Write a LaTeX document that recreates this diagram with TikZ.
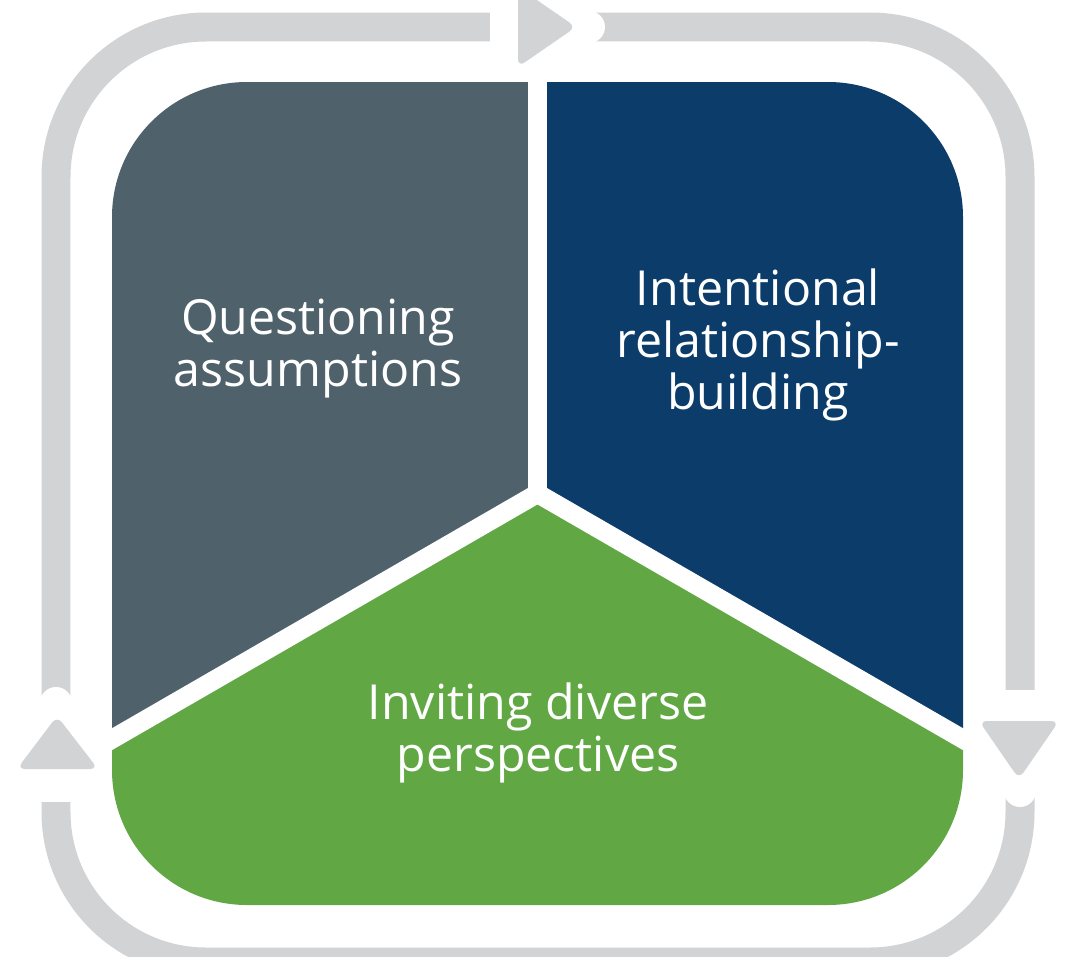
\documentclass[tikz,border=0pt]{standalone}
\usepackage{fontspec}
\setmainfont{Open Sans}
\usepackage{tikz}
\definecolor{ringgray}{HTML}{D1D3D4}
\definecolor{slate}{HTML}{4F616B}
\definecolor{navy}{HTML}{0C3D6A}
\definecolor{leaf}{HTML}{61A845}
\tikzset{
	ring/.style={draw=ringgray, line width=0.58cm},
	gap/.style={fill=white},
	ringtip/.style={fill=ringgray, rounded corners=0.16cm},
	divider/.style={draw=white, line width=0.38cm},
	paneltext/.style={text=white, align=center, inner sep=0pt, font=\fontsize{27.5}{29.6}\selectfont}
}

\begin{document}
\begin{tikzpicture}[x=0.02cm, y=-0.02cm]
	\useasboundingbox (0,0) rectangle (1066,957);
	\draw [ring, rounded corners=3cm] (56,27) rectangle (1020,962);
	\fill [gap] (490,10) rectangle (589,44);
	\fill [gap] (589,27) circle (0.32cm);
	\fill [gap] (40,703) rectangle (73,802);
	\fill [gap] (56,703) circle (0.32cm);
	\fill [gap] (1004,690) rectangle (1037,791);
	\fill [gap] (1020,791) circle (0.32cm);
	\fill [ringtip] (518,-13) -- (518,67) -- (576,27) -- cycle;
	\fill [ringtip] (17,769) -- (98,769) -- (57,716) -- cycle;
	\fill [ringtip] (979,721) -- (1059,721) -- (1019,779) -- cycle;
	\begin{scope}
		\clip [rounded corners=2.7cm] (112,82) rectangle (963,905);
		\fill [slate] (537.5,493.5) -- (537.5,0) -- (0,0) -- (0,804) -- cycle;
		\fill [navy] (537.5,493.5) -- (537.5,0) -- (1066,0) -- (1066,804) -- cycle;
		\fill [leaf] (537.5,493.5) -- (1066,804) -- (1066,957) -- (0,957) -- (0,804) -- cycle;
	\end{scope}
	\coordinate (hub) at (537.5,493.5);
	\coordinate (north) at (537.5,70);
	\coordinate (west) at (100,746.1);
	\coordinate (east) at (975,746.1);
	\draw [divider] (hub) -- (north);
	\draw [divider] (hub) -- (west);
	\draw [divider] (hub) -- (east);
	\node [paneltext] (assume) at (318,348.5) {Questioning\\assumptions};
	\node [paneltext] (relate) at (758,345) {Intentional\\relationship-\\building};
	\node [paneltext] (invite) at (538,732.5) {Inviting diverse\\perspectives};
\end{tikzpicture}
\end{document}
